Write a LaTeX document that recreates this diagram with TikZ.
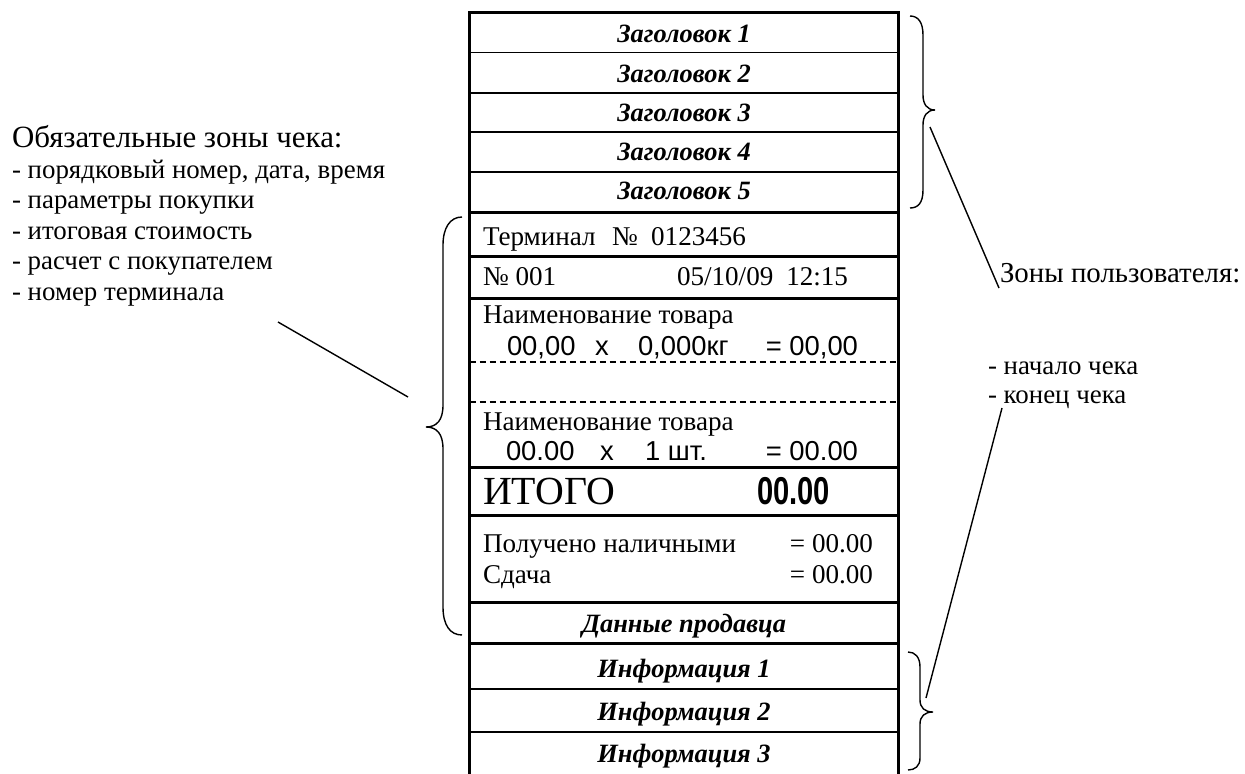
\documentclass[tikz,border=0pt]{standalone}
\usepackage{fontspec}
\usepackage{graphicx}
\setmainfont{Liberation Serif}
\newfontfamily\arialf{Liberation Sans}
\tikzset{
  thickln/.style={line width=3bp},
  thinln/.style={line width=1.7bp},
  dashln/.style={line width=1.8bp, dash pattern=on 6.5bp off 3.5bp},
  bracepath/.style={line width=1.4bp},
  leader/.style={line width=1.4bp},
  txt/.style={inner sep=0pt, outer sep=0pt},
  hdr/.style={txt, anchor=base, font=\fontsize{26.5}{26.5}\selectfont\bfseries\itshape},
  rtxt/.style={txt, anchor=base west, font=\fontsize{27.2}{27.2}\selectfont},
  rtxte/.style={txt, anchor=base east, font=\fontsize{27.2}{27.2}\selectfont},
  atxt/.style={txt, anchor=base west, font=\arialf\fontsize{27.5}{27.5}\selectfont},
  atxte/.style={txt, anchor=base east, font=\arialf\fontsize{27.5}{27.5}\selectfont},
  bigtxt/.style={txt, anchor=base west, font=\fontsize{40}{40}\selectfont},
  lhead/.style={txt, anchor=base west, font=\fontsize{31}{31}\selectfont},
  rhead/.style={txt, anchor=base west, font=\fontsize{29}{29}\selectfont},
  litem/.style={txt, anchor=base west, font=\fontsize{27}{27}\selectfont},
}
\begin{document}
\begin{tikzpicture}[x=1bp,y=-1bp]
\useasboundingbox (0,0) rectangle (1245,774);
% receipt frame
\coordinate (TL) at (469.5,13);
\coordinate (TR) at (898.7,13);
\draw[thickln, line join=miter] (469.5,774) -- (TL) -- (TR) -- (898.7,774);
\foreach \yy in {52.5,93,132,172,689,732} \draw[thinln] (469.5,\yy) -- (898.7,\yy);
\foreach \yy in {212,256,298,467,515,602,643.7} \draw[thickln] (469.5,\yy) -- (898.7,\yy);
\foreach \yy in {362,402} \draw[dashln] (469.5,\yy) -- (898.7,\yy);
% headers
\node[hdr] (h1) at (684,43) {Заголовок 1};
\node[hdr] (h2) at (684,83) {Заголовок 2};
\node[hdr] (h3) at (684,122) {Заголовок 3};
\node[hdr] (h4) at (684,160.5) {Заголовок 4};
\node[hdr] (h5) at (684,199.5) {Заголовок 5};
% terminal
\node[rtxt] (term) at (483,245) {Терминал};
\node[rtxt] (termno) at (612,245) {№};
\node[rtxte] (termnum) at (746,245) {0123456};
\node[rtxt] (chk) at (483,285) {№ 001};
\node[rtxt] (date) at (677,285) {05/10/09};
\node[rtxte] (time) at (848,285) {12:15};
% goods
\node[rtxt] (name1) at (483,323) {Наименование товара};
\node[atxt] (q1a) at (507,355) {00,00};
\node[atxt] (q1x) at (595,355) {х};
\node[atxt] (q1b) at (638,355) {0,000кг};
\node[atxte] (q1c) at (858,355) {= 00,00};
\node[rtxt] (name2) at (483,430) {Наименование товара};
\node[atxt] (q2a) at (506,460) {00.00};
\node[atxt] (q2x) at (600,460) {х};
\node[atxt] (q2b) at (645,460) {1 шт.};
\node[atxte] (q2c) at (858,460) {= 00.00};
% total
\node[bigtxt] (itogo) at (483,504) {ИТОГО};
\node[txt, anchor=base west, font=\arialf\bfseries\fontsize{39}{39}\selectfont] (itogosum) at (757,504) {\scalebox{0.75}[1]{00.00}};
% payment
\node[rtxt] (paid) at (483,552) {Получено наличными};
\node[rtxte] (paidsum) at (873,552) {= 00.00};
\node[rtxt] (change) at (483,583) {Сдача};
\node[rtxte] (changesum) at (873,583) {= 00.00};
\node[hdr] (seller) at (684,632) {Данные продавца};
\node[hdr] (info1) at (684,677) {Информация 1};
\node[hdr] (info2) at (684,720) {Информация 2};
\node[hdr] (info3) at (684,762) {Информация 3};
% left annotation
\node[lhead] (oblig) at (12,147) {Обязательные зоны чека:};
\node[litem] (l1) at (12,178) {- порядковый номер, дата, время};
\node[litem] (l2) at (12,208.5) {- параметры покупки};
\node[litem] (l3) at (12,239) {- итоговая стоимость};
\node[litem] (l4) at (12,269.5) {- расчет с покупателем};
\node[litem] (l5) at (12,300) {- номер терминала};
\draw[bracepath] (462,217) .. controls (450,217) and (443,228) .. (443,245) -- (443,405)
  .. controls (443,420) and (437,427) .. (426,427)
  .. controls (437,427) and (443,434) .. (443,449) -- (443,607)
  .. controls (443,625) and (450,635) .. (462,635);
\coordinate (la) at (278,322);
\coordinate (lb) at (408,397);
\draw[leader] (la) -- (lb);
% right annotation
\node[rhead] (users) at (1000,282) {Зоны пользователя:};
\node[litem] (r1) at (988,374) {- начало чека};
\node[litem] (r2) at (988,403) {- конец чека};
\draw[bracepath] (910,16) .. controls (918,16) and (923,22) .. (923,35) -- (923,95)
  .. controls (923,104) and (927,110) .. (935,110)
  .. controls (927,110) and (923,116) .. (923,125) -- (923,190)
  .. controls (923,203) and (918,208) .. (910,208);
\draw[bracepath] (908,652) .. controls (915,652) and (920,657) .. (920,667) -- (920,700)
  .. controls (920,708) and (925,712) .. (933,712)
  .. controls (925,712) and (920,716) .. (920,724) -- (920,758)
  .. controls (920,766) and (915,770) .. (908,770);
\coordinate (ra) at (930,127);
\coordinate (rb) at (999,288);
\coordinate (rc) at (1002,408);
\coordinate (rd) at (926,698);
\draw[leader] (ra) -- (rb);
\draw[leader] (rc) -- (rd);
\end{tikzpicture}
\end{document}
